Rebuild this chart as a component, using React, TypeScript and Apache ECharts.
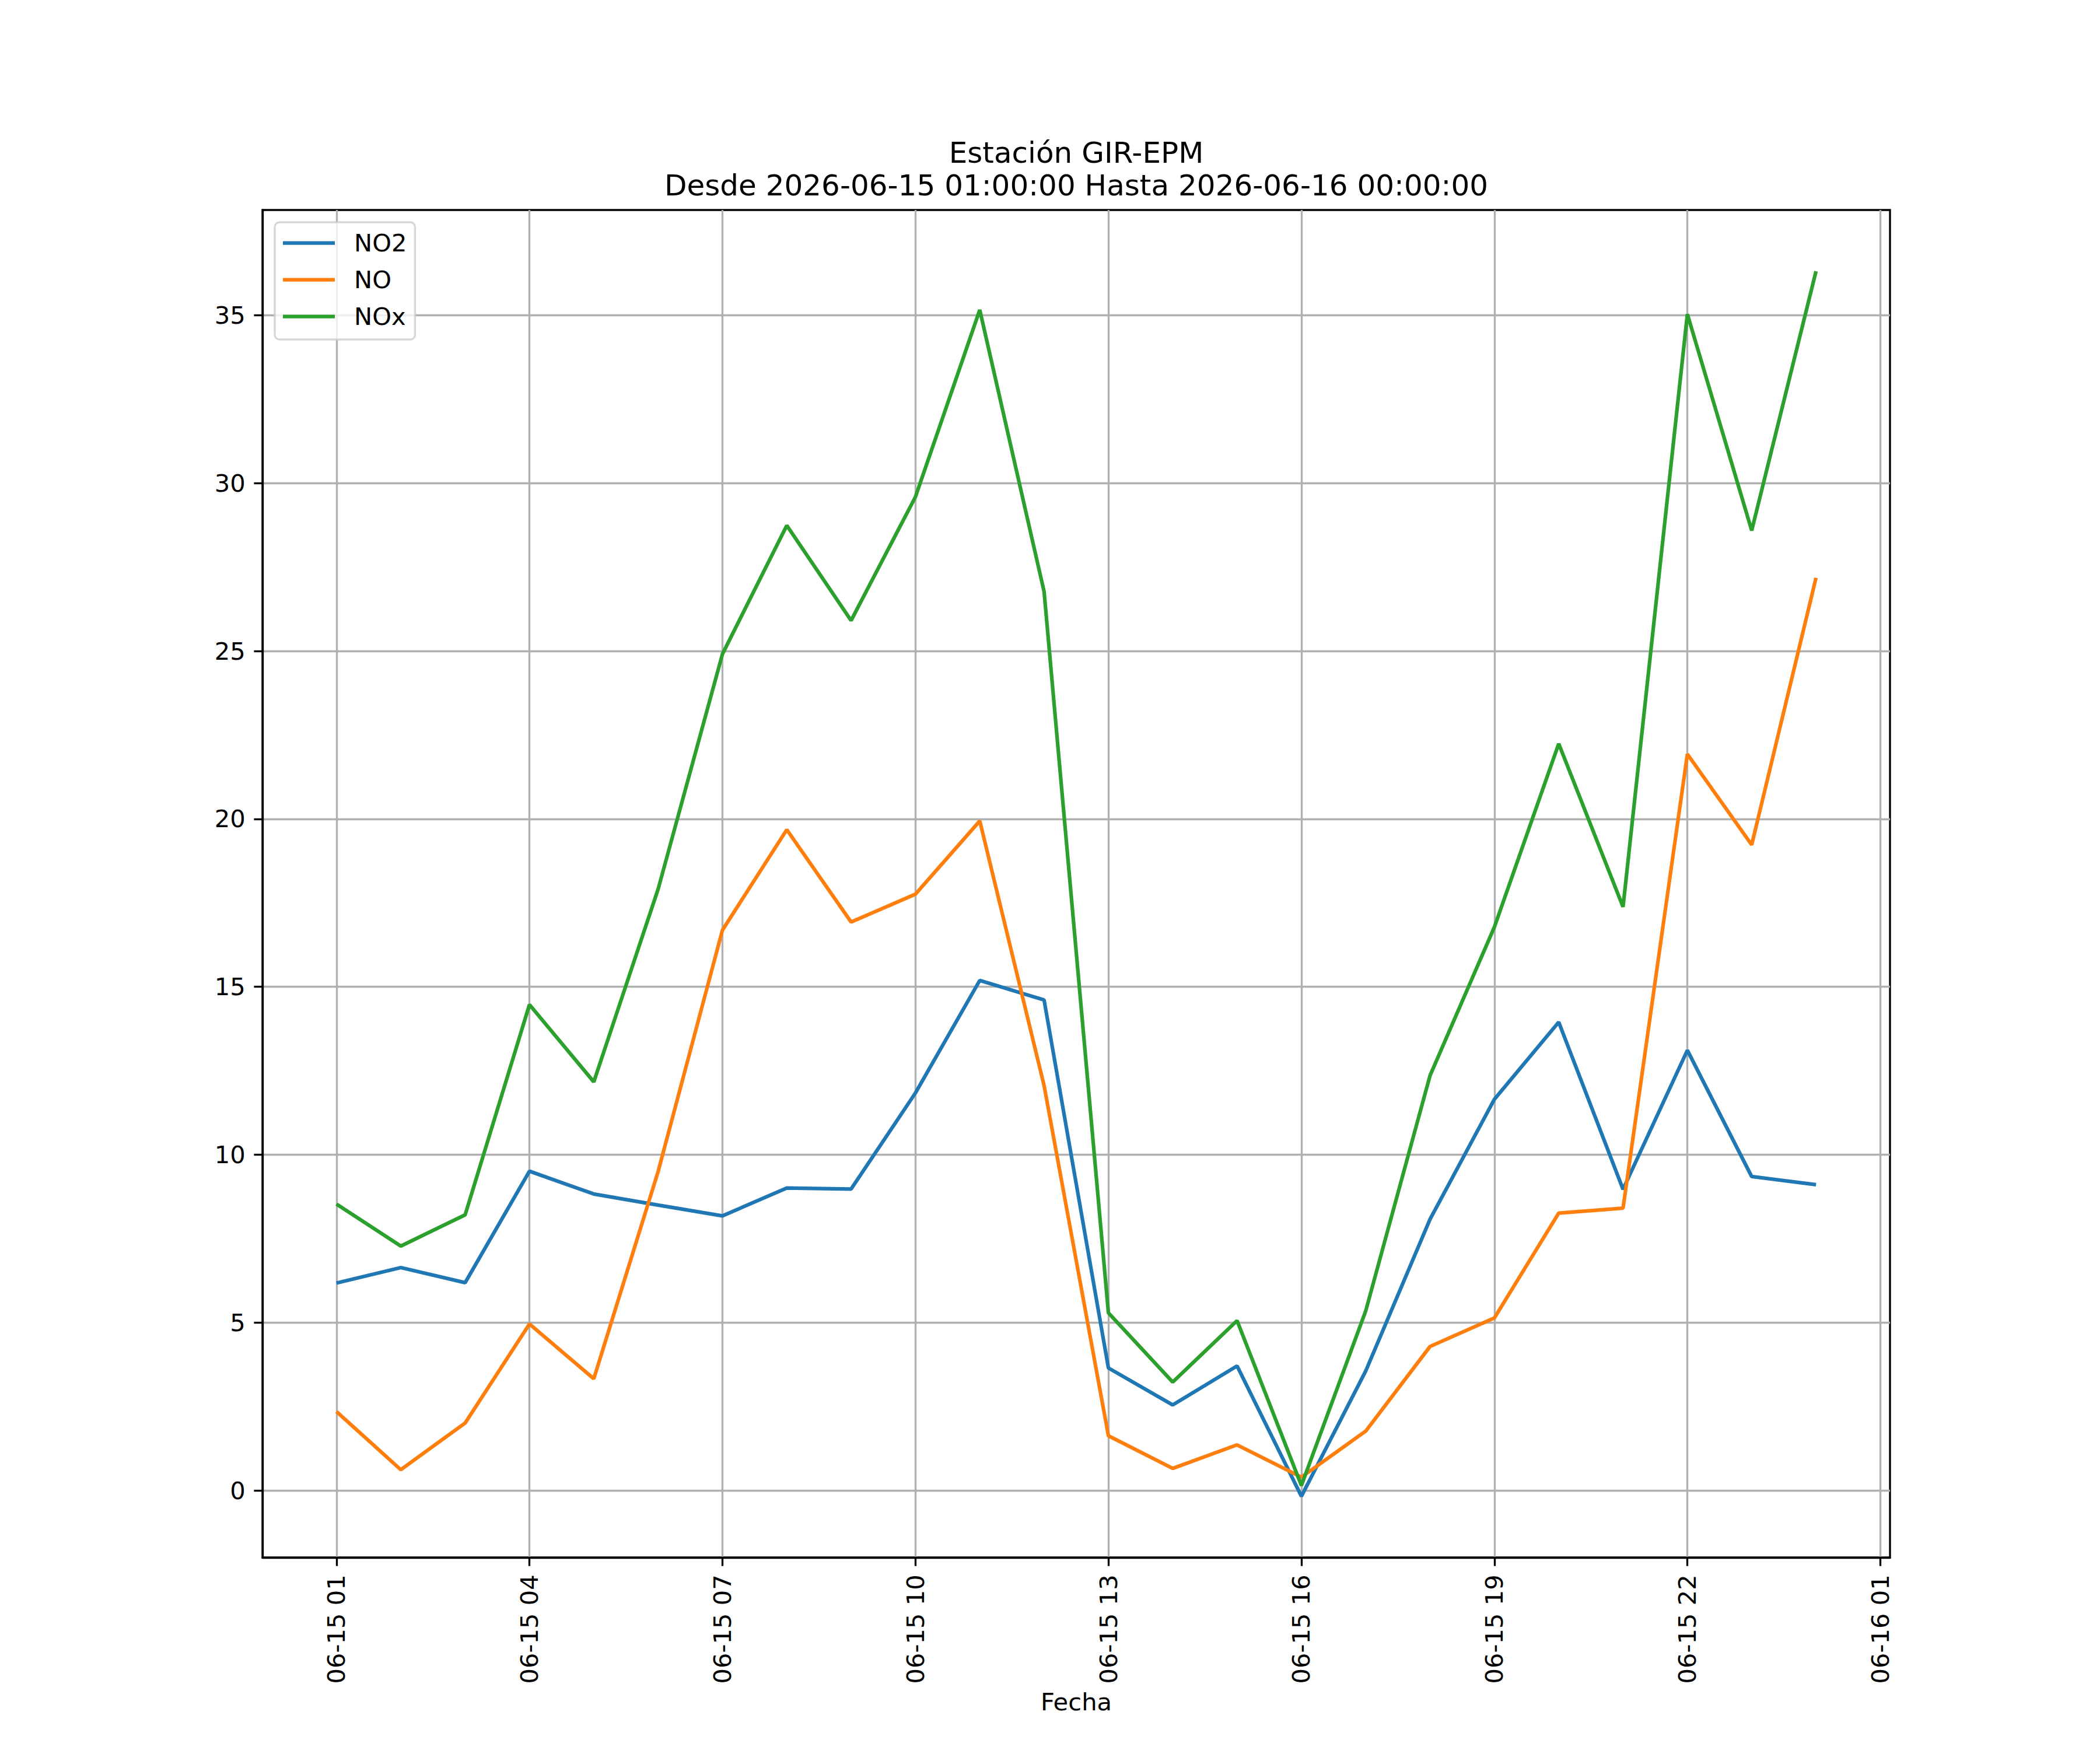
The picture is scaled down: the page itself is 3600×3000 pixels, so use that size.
import React, { useEffect, useRef } from "react";
import * as echarts from "echarts";

const times: string[] = [
  "2026-06-15 01:00", "2026-06-15 02:00", "2026-06-15 03:00", "2026-06-15 04:00",
  "2026-06-15 05:00", "2026-06-15 06:00", "2026-06-15 07:00", "2026-06-15 08:00",
  "2026-06-15 09:00", "2026-06-15 10:00", "2026-06-15 11:00", "2026-06-15 12:00",
  "2026-06-15 13:00", "2026-06-15 14:00", "2026-06-15 15:00", "2026-06-15 16:00",
  "2026-06-15 17:00", "2026-06-15 18:00", "2026-06-15 19:00", "2026-06-15 20:00",
  "2026-06-15 21:00", "2026-06-15 22:00", "2026-06-15 23:00", "2026-06-16 00:00",
];

const no2: number[] = [6.18, 6.64, 6.19, 9.51, 8.83, 8.5, 8.18, 9.01, 8.98, 11.84, 15.19, 14.61, 3.65, 2.55, 3.71, -0.17, 3.56, 8.08, 11.65, 13.95, 8.97, 13.11, 9.35, 9.11];
const no: number[] = [2.35, 0.62, 2.01, 4.96, 3.33, 9.5, 16.69, 19.68, 16.93, 17.76, 19.94, 12.06, 1.63, 0.66, 1.36, 0.4, 1.77, 4.29, 5.14, 8.26, 8.41, 21.93, 19.23, 27.18];
const nox: number[] = [8.53, 7.28, 8.21, 14.47, 12.17, 17.91, 24.91, 28.74, 25.91, 29.59, 35.16, 26.77, 5.29, 3.23, 5.06, 0.15, 5.35, 12.36, 16.78, 22.24, 17.38, 35.03, 28.59, 36.31];

const seriesNames: string[] = ["NO2", "NO", "NOx"];
const seriesColors: string[] = ["#1f77b4", "#ff7f0e", "#2ca02c"];

// x ticks: hours since the first timestamp
const xTickHours: number[] = [0, 3, 6, 9, 12, 15, 18, 21, 24];
const xTickLabels: string[] = ["06-15 01", "06-15 04", "06-15 07", "06-15 10", "06-15 13", "06-15 16", "06-15 19", "06-15 22", "06-16 01"];
const yTicks: number[] = [0, 5, 10, 15, 20, 25, 30, 35];

const titleLines: string[] = ["Estación GIR-EPM", "Desde 2026-06-15 01:00:00 Hasta 2026-06-16 00:00:00"];
const xAxisName = "Fecha";

const FONT = "DejaVu Sans";
const PT = 300 / 72;

export default function App() {
  const ref = useRef<HTMLDivElement>(null);

  useEffect(() => {
    if (!ref.current) return;
    const chart = echarts.init(ref.current, undefined, { renderer: "svg" });

    const allSeries = [no2, no, nox];
    const all = allSeries.flat();
    const dMin = Math.min(...all);
    const dMax = Math.max(...all);
    const yPad = (dMax - dMin) * 0.05;
    const xN = times.length - 1;
    const xPad = xN * 0.05;

    const option: any = {
      animation: false,
      backgroundColor: "#ffffff",
      title: {
        text: titleLines.join("\n"),
        left: 1845,
        top: 234,
        padding: 0,
        textAlign: "center",
        textStyle: {
          fontFamily: FONT,
          fontSize: 12 * PT,
          fontWeight: "normal",
          color: "#000000",
          lineHeight: 56,
        },
      },
      legend: {
        left: 471,
        top: 381,
        orient: "vertical",
        data: seriesNames,
        icon: "rect",
        itemWidth: 89,
        itemHeight: 1.5 * PT,
        itemGap: 0,
        padding: [4, 14, 8, 14],
        backgroundColor: "rgba(255,255,255,0.8)",
        borderColor: "rgba(204,204,204,0.8)",
        borderWidth: 0.8 * PT,
        borderRadius: 8,
        textStyle: {
          fontFamily: FONT,
          fontSize: 10 * PT,
          color: "#000000",
          lineHeight: 63,
          padding: [0, 0, 0, 28],
        },
      },
      grid: {
        left: 450,
        top: 360,
        width: 2790,
        height: 2310,
        show: true,
        borderColor: "#000000",
        borderWidth: 0.8 * PT,
        backgroundColor: "transparent",
      },
      xAxis: {
        type: "value",
        min: -xPad,
        max: xN + xPad,
        name: xAxisName,
        nameLocation: "middle",
        nameGap: 226,
        nameTextStyle: { fontFamily: FONT, fontSize: 10 * PT, color: "#000000" },
        axisLine: { show: true, onZero: false, lineStyle: { color: "#000000", width: 0.8 * PT } },
        axisTick: {
          show: true,
          inside: false,
          length: 3.5 * PT,
          customValues: xTickHours,
          lineStyle: { color: "#000000", width: 0.8 * PT },
        },
        axisLabel: {
          show: true,
          customValues: xTickHours,
          rotate: 90,
          margin: 7 * PT,
          fontFamily: FONT,
          fontSize: 10 * PT,
          color: "#000000",
          formatter: (v: number) => {
            const i = xTickHours.indexOf(Math.round(v));
            return i >= 0 ? xTickLabels[i] : "";
          },
        },
        splitLine: { show: true, lineStyle: { color: "#b0b0b0", width: 0.8 * PT } },
      },
      yAxis: {
        type: "value",
        min: dMin - yPad,
        max: dMax + yPad,
        axisLine: { show: true, onZero: false, lineStyle: { color: "#000000", width: 0.8 * PT } },
        axisTick: {
          show: true,
          inside: false,
          length: 3.5 * PT,
          customValues: yTicks,
          lineStyle: { color: "#000000", width: 0.8 * PT },
        },
        axisLabel: {
          show: true,
          customValues: yTicks,
          margin: 7 * PT,
          fontFamily: FONT,
          fontSize: 10 * PT,
          color: "#000000",
          formatter: (v: number) => String(Math.round(v)),
        },
        splitLine: { show: true, lineStyle: { color: "#b0b0b0", width: 0.8 * PT } },
      },
      series: allSeries.map((arr, k) => ({
        type: "line",
        name: seriesNames[k],
        data: arr.map((v, i) => [i, v]),
        showSymbol: false,
        symbol: "none",
        color: seriesColors[k],
        lineStyle: { color: seriesColors[k], width: 1.5 * PT },
        itemStyle: { color: seriesColors[k] },
        z: 3 + k,
      })),
    };

    chart.setOption(option);
    return () => chart.dispose();
  }, []);

  return (
    <div
      ref={ref}
      style={{ position: "absolute", left: 0, top: 0, width: 3600, height: 3000, background: "#ffffff" }}
    />
  );
}
